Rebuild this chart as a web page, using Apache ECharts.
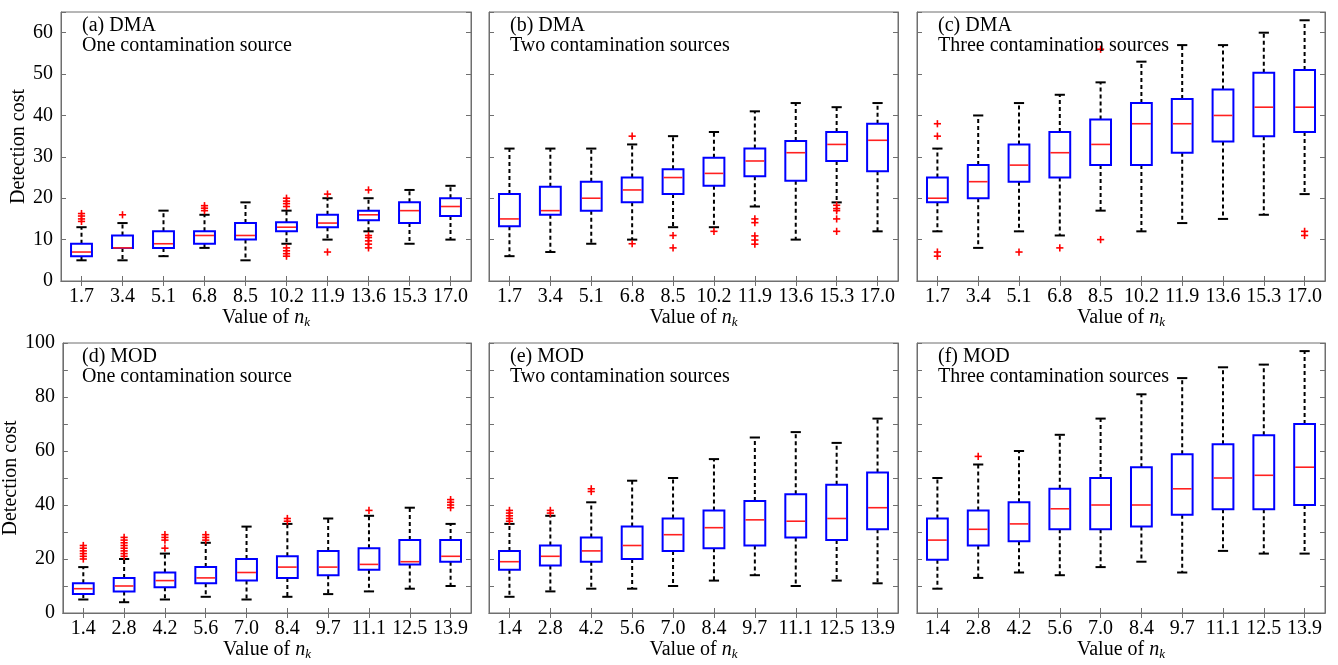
<!DOCTYPE html>
<html><head><meta charset="utf-8">
<script src="https://cdn.jsdelivr.net/npm/echarts@6/dist/echarts.min.js"></script>
<style>html,body{margin:0;padding:0;background:#fff}#c{width:1338px;height:665px}</style>
</head><body><div id="c"></div>
<script>
// ---- categories (values of n_k) ----
const dmaCats = ['1.7','3.4','5.1','6.8','8.5','10.2','11.9','13.6','15.3','17.0'];
const modCats = ['1.4','2.8','4.2','5.6','7.0','8.4','9.7','11.1','12.5','13.9'];

// ---- box statistics: [lower whisker, Q1, median, Q3, upper whisker] ----
const boxA = [[5,6,7,9,13],[5,8,8,11,14],[6,8,9,12,17],[8,9,11,12,16],[5,10,11,14,19],
              [9,12,13,14.2,17],[10,13,14,16,20],[12,14.7,16,17,20],[9,14,17,19,22],[10,15.7,18,20,23]];
const boxB = [[6,13.2,15,21,32],[7,16,17,22.8,32],[9,17,20,24,32],[10,19,22,25,33],[13,21,25,27,35],
              [13,23,26,29.8,36],[18,25.3,29,32,41],[10,24.2,31,33.8,43],[19,29,33,36,42],[12,26.5,34,38,43]];
const boxC = [[12,19,20,25,32],[8,20,24,28,40],[12,24,28,33,43],[11,25,31,36,45],[17,28,33,39,48],
              [12,28,38,43,53],[14,31,38,44,57],[15,33.7,40,46.3,57],[16,35,42,50.3,60],[21,36,42,51,63]];
const boxD = [[5,7,9,11,17],[4,8,10,13,20],[5,9.5,12,15,22],[6,11,13,17,26],[5,12,15,20,32],
              [6,13,17,21,33],[7,14,17,23,35],[8,16,18,24,36],[9,18,19,27,39],[10,19,21,27,33]];
const boxE = [[6,16,19,23,33],[8,17.6,21,25,36],[9,19,23,28,41],[9,20,25,32,49],[10,23,29,35,50],
              [12,24,31.6,38,57],[14,25,34.5,41.5,65],[10,28,34,44,67],[12,27,35,47.5,63],[11,31,39,52,72]];
const boxF = [[9,19.7,27,35,50],[13,25,31,38,55],[15,26.6,33,41,60],[14,31,38.6,46,66],[17,31,40,50,72],
              [19,32,40,54,81],[15,36.4,46,58.8,87],[23,38.4,50,62.5,91],[22,38.4,51,65.8,92],[22,40,54,70,97]];

// ---- outliers: [category index, value] ----
const outA = [[0,14.4],[0,15],[0,15.7],[0,16.3],[1,16],[3,17],[3,17.6],[3,18.2],
              [5,18],[5,18.7],[5,19.3],[5,20],[5,6],[5,6.6],[5,7.3],[5,8],
              [6,21],[6,7],[7,22],[7,8],[7,8.9],[7,9.7],[7,10.5],[7,11]];
const outB = [[3,35],[3,9],[4,11],[4,8],[5,12],[6,15],[6,14.1],[6,10.9],[6,9.9],[6,8.9],
              [8,18.3],[8,17.5],[8,17],[8,15],[8,12]];
const outC = [[0,38],[0,35],[0,7],[0,6],[2,7],[3,8],[4,56],[4,10],[9,12],[9,11]];
const outD = [[0,20],[0,21],[0,22],[0,23],[0,24],[0,25],
              [1,21],[1,22],[1,23],[1,24],[1,25],[1,26],[1,27],[1,28],
              [2,24],[2,27],[2,28],[2,29],[3,27],[3,28],[3,29],[5,34],[5,35],[7,38],
              [9,39],[9,40],[9,41],[9,42]];
const outE = [[0,34],[0,35],[0,36],[0,37],[0,38],[1,37],[1,38],[2,45],[2,46]];
const outF = [[1,58]];

// ---- panel texts ----
const panelTitles = ['(a) DMA\nOne contamination source','(b) DMA\nTwo contamination sources','(c) DMA\nThree contamination sources',
                     '(d) MOD\nOne contamination source','(e) MOD\nTwo contamination sources','(f) MOD\nThree contamination sources'];
const yName = 'Detection cost';

const FONT = '"Liberation Serif","Times New Roman",serif';
const FS = 20;
const AX = '#6f6f6f';

const panels = [
  {cats: dmaCats, box: boxA, out: outA, left: 61,  top: 12,  w: 410, h: 269, ymax: 65,  lab: 10, first: true},
  {cats: dmaCats, box: boxB, out: outB, left: 489, top: 12,  w: 409, h: 269, ymax: 65,  lab: 10, first: false},
  {cats: dmaCats, box: boxC, out: outC, left: 917, top: 12,  w: 408, h: 269, ymax: 65,  lab: 10, first: false},
  {cats: modCats, box: boxD, out: outD, left: 61,  top: 343, w: 410, h: 270, ymax: 100, lab: 20, first: true},
  {cats: modCats, box: boxE, out: outE, left: 489, top: 343, w: 409, h: 270, ymax: 100, lab: 20, first: false},
  {cats: modCats, box: boxF, out: outF, left: 917, top: 343, w: 408, h: 270, ymax: 100, lab: 20, first: false}
];

function renderBox(params, api){
  const i = api.value(0);
  const lo = api.coord([i, api.value(1)]);
  const q1 = api.coord([i, api.value(2)]);
  const md = api.coord([i, api.value(3)]);
  const q3 = api.coord([i, api.value(4)]);
  const hi = api.coord([i, api.value(5)]);
  const band = api.size([1, 0])[0];
  const bw = band * 0.51, cw = band * 0.25;
  const x = lo[0];
  const dash = {stroke: '#000', lineWidth: 2, lineDash: [4, 3], fill: null};
  const solid = {stroke: '#000', lineWidth: 2, fill: null};
  return {type: 'group', children: [
    {type: 'line', shape: {x1: x, y1: q3[1], x2: x, y2: hi[1]}, style: dash},
    {type: 'line', shape: {x1: x, y1: q1[1], x2: x, y2: lo[1]}, style: dash},
    {type: 'line', shape: {x1: x - cw / 2, y1: hi[1], x2: x + cw / 2, y2: hi[1]}, style: solid},
    {type: 'line', shape: {x1: x - cw / 2, y1: lo[1], x2: x + cw / 2, y2: lo[1]}, style: solid},
    {type: 'rect', shape: {x: x - bw / 2, y: q3[1], width: bw, height: q1[1] - q3[1]},
      style: {fill: null, stroke: '#0000ff', lineWidth: 2}},
    {type: 'line', shape: {x1: x - bw / 2 + 1, y1: md[1], x2: x + bw / 2 - 1, y2: md[1]},
      style: {stroke: '#ff2020', lineWidth: 1.6}}
  ]};
}
function renderPlus(params, api){
  const p = api.coord([api.value(0), api.value(1)]);
  const r = 3.6;
  const st = {stroke: '#ff0000', lineWidth: 1.6};
  return {type: 'group', children: [
    {type: 'line', shape: {x1: p[0] - r, y1: p[1], x2: p[0] + r, y2: p[1]}, style: st},
    {type: 'line', shape: {x1: p[0], y1: p[1] - r, x2: p[0], y2: p[1] + r}, style: st}
  ]};
}

const grid = [], xAxis = [], yAxis = [], series = [], title = [];
panels.forEach((p, k) => {
  grid.push({left: p.left, top: p.top, width: p.w, height: p.h, containLabel: false,
             show: true, borderColor: AX, borderWidth: 1});
  const tick = {show: true, inside: true, length: 5, lineStyle: {color: AX}};
  const line = {show: true, lineStyle: {color: AX, width: 1}};
  xAxis.push({type: 'category', gridIndex: k, data: p.cats, position: 'bottom',
    axisLine: line, axisTick: Object.assign({alignWithLabel: true}, tick),
    axisLabel: {color: '#000', fontFamily: FONT, fontSize: FS, margin: 6, interval: 0},
    splitLine: {show: false},
    name: 'Value of {i|n}{s|k}', nameLocation: 'middle', nameGap: 24,
    nameTextStyle: {color: '#000', fontFamily: FONT, fontSize: FS, verticalAlign: 'top',
      rich: {i: {fontFamily: FONT, fontSize: FS, fontStyle: 'italic', color: '#000'},
             s: {fontFamily: FONT, fontSize: 13, fontStyle: 'italic', color: '#000', padding: [10, 0, 0, 0]}}}});
  xAxis.push({type: 'category', gridIndex: k, data: p.cats, position: 'top',
    axisLine: line, axisTick: Object.assign({alignWithLabel: true}, tick),
    axisLabel: {show: false}, splitLine: {show: false}});
  const labFmt = v => (v % p.lab === 0 ? String(v) : '');
  yAxis.push({type: 'value', gridIndex: k, min: 0, max: p.ymax, interval: 10, position: 'left',
    axisLine: line, axisTick: tick, splitLine: {show: false},
    axisLabel: {show: p.first, color: '#000', fontFamily: FONT, fontSize: FS, margin: 8, formatter: labFmt,
                showMaxLabel: true},
    name: p.first ? yName : '', nameLocation: 'middle', nameGap: 32,
    nameTextStyle: {color: '#000', fontFamily: FONT, fontSize: FS}});
  yAxis.push({type: 'value', gridIndex: k, min: 0, max: p.ymax, interval: 10, position: 'right',
    axisLine: line, axisTick: tick, splitLine: {show: false}, axisLabel: {show: false}});
  series.push({type: 'custom', xAxisIndex: 2 * k, yAxisIndex: 2 * k, renderItem: renderBox,
    encode: {x: 0, y: [1, 2, 3, 4, 5]}, z: 3, silent: true,
    data: p.box.map((b, i) => [i].concat(b))});
  series.push({type: 'custom', xAxisIndex: 2 * k, yAxisIndex: 2 * k, renderItem: renderPlus,
    encode: {x: 0, y: 1}, z: 4, silent: true, data: p.out});
  title.push({text: panelTitles[k], left: p.left + 21, top: p.top + 4, padding: 0,
    textStyle: {color: '#000', fontFamily: FONT, fontSize: FS, fontWeight: 'normal', lineHeight: 20}});
});

const chart = echarts.init(document.getElementById('c'), null, {renderer: 'canvas'});
chart.setOption({animation: false, backgroundColor: '#fff', title, grid, xAxis, yAxis, series});
</script></body></html>
